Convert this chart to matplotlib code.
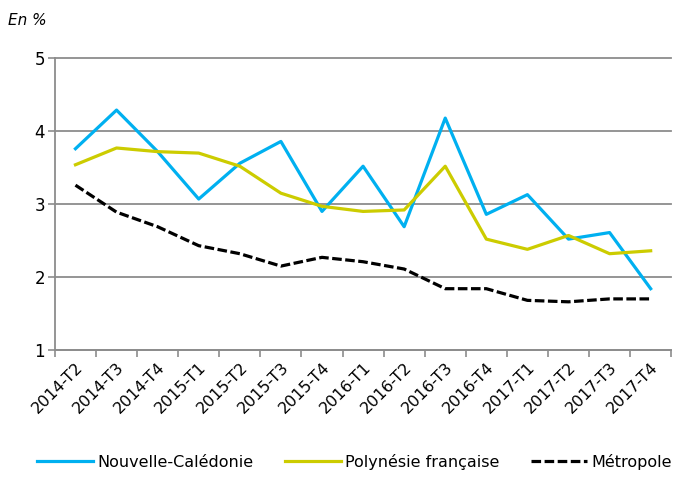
import matplotlib
matplotlib.use("Agg")
import matplotlib.pyplot as plt
import numpy as np

categories = ["2014-T2", "2014-T3", "2014-T4", "2015-T1", "2015-T2", "2015-T3", "2015-T4",
              "2016-T1", "2016-T2", "2016-T3", "2016-T4", "2017-T1", "2017-T2", "2017-T3", "2017-T4"]
nouvelle_caledonie = [3.76, 4.29, 3.72, 3.07, 3.56, 3.86, 2.90, 3.52, 2.69, 4.18, 2.86, 3.13, 2.52, 2.61, 1.84]
polynesie = [3.54, 3.77, 3.72, 3.70, 3.52, 3.15, 2.97, 2.90, 2.92, 3.52, 2.52, 2.38, 2.57, 2.32, 2.36]
metropole = [3.26, 2.89, 2.69, 2.43, 2.32, 2.15, 2.27, 2.21, 2.11, 1.84, 1.84, 1.68, 1.66, 1.70, 1.70]
yticks = [1, 2, 3, 4, 5]

fig = plt.figure(figsize=(6.78, 4.82), dpi=100)
ax = fig.add_axes([0.081, 0.274, 0.909, 0.605])

x = np.arange(len(categories))
ax.plot(x, nouvelle_caledonie, color="#00B0F0", lw=2.3, label="Nouvelle-Calédonie")
ax.plot(x, polynesie, color="#CCCC00", lw=2.3, label="Polynésie française")
ax.plot(x, metropole, color="black", lw=2.3, ls=(0, (3, 1.1)), label="Métropole")

ax.set_ylim(1, 5)
ax.set_xlim(-0.5, len(categories) - 0.5)
ax.set_yticks(yticks)
ax.set_yticklabels([str(v) for v in yticks], fontsize=12)
ax.yaxis.grid(True, color="#8c8c8c", lw=1.3)
for gl in ax.get_ygridlines():
    gl.set_clip_on(False)
ax.set_axisbelow(True)

ax.set_xticks(x)
ax.set_xticklabels(categories, rotation=45, ha="right", rotation_mode="anchor", fontsize=11.5)
ax.tick_params(axis="x", length=0, pad=7)
ax.set_xticks(np.arange(-0.5, len(categories)), minor=True)
ax.tick_params(axis="x", which="minor", length=5, color="#8c8c8c", width=1.2)
ax.tick_params(axis="y", length=5, color="#8c8c8c", width=1.2, pad=2)

for s in ["top", "right"]:
    ax.spines[s].set_visible(False)
for s in ["left", "bottom"]:
    ax.spines[s].set_color("#8c8c8c")
    ax.spines[s].set_linewidth(1.3)

fig.text(0.012, 0.958, "En %", fontsize=11, style="italic", ha="left", va="center")

fig.legend(loc="center", bbox_to_anchor=(0.523, 0.042), ncol=3, frameon=False,
           fontsize=11.5, handlelength=3.5, columnspacing=2.0, handletextpad=0.25)

fig.savefig("out.png", dpi=100)
